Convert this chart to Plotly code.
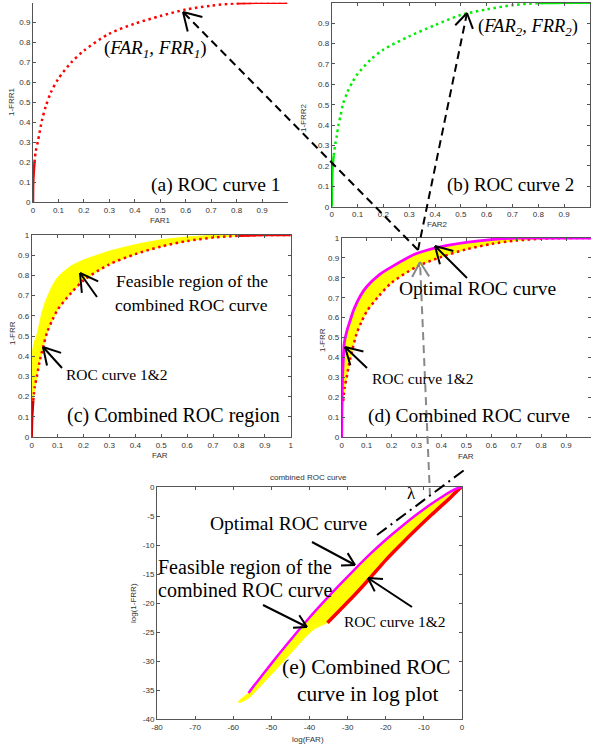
import math
import plotly.graph_objects as go

W, H = 591, 746

# ---------------- data ----------------
ticks01 = [0, 0.1, 0.2, 0.3, 0.4, 0.5, 0.6, 0.7, 0.8, 0.9, 1.0]
ticks01_text = ["0", "0.1", "0.2", "0.3", "0.4", "0.5", "0.6", "0.7", "0.8", "0.9", "1"]

# (a) ROC curve 1
roc1_far = [0, 0.001, 0.003, 0.006, 0.01, 0.02, 0.035, 0.05, 0.07, 0.1, 0.15, 0.2, 0.3, 0.4, 0.5, 0.6, 0.7, 0.8, 0.9, 1.0]
roc1_tar = [0, 0.1, 0.15, 0.2, 0.25, 0.31, 0.41, 0.48, 0.55, 0.62, 0.70, 0.76, 0.845, 0.895, 0.933, 0.966, 0.985, 0.997, 1.0, 1.0]

# (b) ROC curve 2
roc2_far = [0, 0.001, 0.004, 0.008, 0.013, 0.02, 0.026, 0.035, 0.043, 0.06, 0.08, 0.1, 0.15, 0.2, 0.3, 0.4, 0.5, 0.6, 0.7, 0.8, 0.9, 1.0]
roc2_tar = [0, 0.1, 0.2, 0.25, 0.3, 0.35, 0.4, 0.45, 0.5, 0.56, 0.61, 0.65, 0.72, 0.77, 0.835, 0.89, 0.94, 0.967, 0.988, 0.998, 1.0, 1.0]

# (c)/(d) ROC curve 1&2 (lower boundary)
roc12_far = [0, 0.002, 0.006, 0.012, 0.02, 0.03, 0.045, 0.06, 0.08, 0.1, 0.15, 0.2, 0.3, 0.4, 0.5, 0.6, 0.7, 0.8, 0.9, 1.0]
roc12_tar = [0, 0.1, 0.18, 0.25, 0.3, 0.37, 0.45, 0.52, 0.58, 0.63, 0.71, 0.775, 0.855, 0.905, 0.943, 0.97, 0.987, 0.996, 1.0, 1.0]

# (c) feasible region upper boundary
feas_far = [0, 0, 0.002, 0.005, 0.01, 0.02, 0.035, 0.05, 0.075, 0.1, 0.15, 0.2, 0.3, 0.4, 0.5, 0.6, 0.7, 0.8, 1.0]
feas_tar = [0, 0.35, 0.4, 0.44, 0.47, 0.505, 0.59, 0.66, 0.735, 0.79, 0.845, 0.876, 0.92, 0.952, 0.976, 0.99, 0.998, 1.0, 1.0]

# (d) optimal ROC curve
opt_far = [0, 0.001, 0.003, 0.006, 0.01, 0.02, 0.03, 0.05, 0.075, 0.1, 0.15, 0.2, 0.3, 0.4, 0.5, 0.6, 0.7, 0.8, 0.9, 1.0]
opt_tar = [0, 0.15, 0.28, 0.38, 0.47, 0.53, 0.57, 0.645, 0.71, 0.755, 0.815, 0.855, 0.922, 0.957, 0.978, 0.992, 0.999, 1.0, 1.0, 1.0]

# (e) log plot
opt_log_x = [-56, -52, -48, -44, -40, -36, -32, -28, -24, -20, -16, -12, -8, -5, -3, -1.5, -0.5, 0]
opt_log_y = [-35.5, -32.1, -28.8, -25.6, -22.5, -19.6, -16.8, -14.1, -11.5, -9.1, -6.9, -4.8, -2.9, -1.6, -0.8, -0.3, -0.05, 0]
roc12_log_x = [-35.3, -32, -28, -24, -20, -16, -12, -8, -5, -3, -1.5, -0.5, 0]
roc12_log_y = [-23.4, -21.2, -18.5, -15.6, -12.6, -9.9, -7.3, -4.8, -3.0, -1.8, -0.8, -0.2, 0]
feas_low_x = [-35.3, -37, -39, -41, -44, -48, -52, -56, -58.5, -58.5]
feas_low_y = [-23.4, -23.9, -24.6, -25.8, -28.0, -30.9, -33.7, -36.4, -37.2, -36.9]

log_xticks = [-80, -70, -60, -50, -40, -30, -20, -10, 0]
log_yticks = [-40, -35, -30, -25, -20, -15, -10, -5, 0]

# ---------------- helpers ----------------
def P(x, y):
    return x / W, 1 - y / H

def dom(x0, x1, ytop, ybot):
    return [x0 / W, x1 / W], [1 - ybot / H, 1 - ytop / H]

RED = "#ff0000"
GREEN = "#00ee00"
YEL = "#ffff00"
MAG = "#ff00ff"
DOT = "2.5px,3.5px"

fig = go.Figure()

def line_trace(x, y, ax, color, width, dash="solid"):
    fig.add_trace(go.Scatter(x=x, y=y, mode="lines", xaxis="x" + ax, yaxis="y" + ax,
                             line=dict(color=color, width=width, dash=dash,
                                       shape="spline", smoothing=0.8),
                             hoverinfo="skip", showlegend=False))

def fill_trace(xu, yu, xl, yl, ax, color):
    fig.add_trace(go.Scatter(x=list(xu) + list(xl)[::-1], y=list(yu) + list(yl)[::-1],
                             mode="lines", fill="toself", fillcolor=color,
                             xaxis="x" + ax, yaxis="y" + ax,
                             line=dict(color=color, width=1, shape="spline", smoothing=0.6),
                             hoverinfo="skip", showlegend=False))

# (a)
line_trace(roc1_far[:4], roc1_tar[:4], "", RED, 2.5)
line_trace(roc1_far[3:], roc1_tar[3:], "", RED, 2.5, DOT)
line_trace(roc1_far[-3:], roc1_tar[-3:], "", RED, 2.5)
# (b)
line_trace(roc2_far[:4], roc2_tar[:4], "2", GREEN, 2.5)
line_trace(roc2_far[3:], roc2_tar[3:], "2", GREEN, 2.5, DOT)
line_trace(roc2_far[-3:], roc2_tar[-3:], "2", GREEN, 2.5)
# (c)
fill_trace(feas_far, feas_tar, roc12_far, roc12_tar, "3", YEL)
line_trace(roc12_far[:3], roc12_tar[:3], "3", "#cc0000", 2.5)
line_trace(roc12_far[2:], roc12_tar[2:], "3", RED, 2.5, DOT)
line_trace(roc12_far[-3:], roc12_tar[-3:], "3", RED, 2.5)
# (d)
fill_trace(opt_far, opt_tar, roc12_far, roc12_tar, "4", YEL)
line_trace(roc12_far[2:], roc12_tar[2:], "4", RED, 2.5, DOT)
line_trace(opt_far, opt_tar, "4", MAG, 2.8)
# (e)
fill_trace([feas_low_x[-1]] + opt_log_x, [feas_low_y[-1]] + opt_log_y,
           feas_low_x[::-1] + roc12_log_x, feas_low_y[::-1] + roc12_log_y, "5", YEL)
line_trace(roc12_log_x, roc12_log_y, "5", RED, 3.5)
line_trace(opt_log_x, opt_log_y, "5", MAG, 2.5)

# ---------------- axes ----------------
tickfont = dict(family="Liberation Sans, Arial", size=8, color="#333")
base = dict(showline=True, linecolor="#555", linewidth=1, ticks="inside", ticklen=3,
            tickcolor="#555", tickfont=tickfont, showgrid=False, zeroline=False,
            fixedrange=True, automargin=False)

def roc_axes(xd, yd, anchor_x, anchor_y, mirror, hide_last_x=False):
    xt = list(ticks01_text)
    if hide_last_x:
        xt[-1] = ""
    xa = dict(base, domain=xd, range=[0, 1], tickvals=ticks01, ticktext=xt,
              anchor=anchor_y, mirror=mirror)
    ya = dict(base, domain=yd, range=[0, 1], tickvals=ticks01, ticktext=ticks01_text,
              anchor=anchor_x, mirror=mirror)
    return xa, ya

xa, ya = dom(33, 287.5, 2.7, 202.3)
xaxis, yaxis = roc_axes(xa, ya, "x", "y", False, hide_last_x=True)
xb, yb = dom(331.7, 590, 2.7, 206.7)
xaxis2, yaxis2 = roc_axes(xb, yb, "x2", "y2", "ticks")
xc, yc = dom(31.7, 290.7, 235, 437)
xaxis3, yaxis3 = roc_axes(xc, yc, "x3", "y3", "ticks")
xd_, yd_ = dom(341.7, 591, 238, 437)
xaxis4, yaxis4 = roc_axes(xd_, yd_, "x4", "y4", "ticks", hide_last_x=True)
xe, ye = dom(157, 462, 487, 719)
xaxis5 = dict(base, domain=xe, range=[-80, 0], tickvals=log_xticks,
              ticktext=[str(v) for v in log_xticks], anchor="y5", mirror="ticks")
yaxis5 = dict(base, domain=ye, range=[-40, 0], tickvals=log_yticks,
              ticktext=[str(v) for v in log_yticks], anchor="x5", mirror="ticks")

# ---------------- annotations ----------------
ann = []

def text(cx, cy, s, size=17, family="Liberation Serif, Times New Roman", color="black",
         angle=0):
    x, y = P(cx, cy)
    ann.append(dict(x=x, y=y, xref="paper", yref="paper", text=s, showarrow=False,
                    xanchor="center", yanchor="middle", textangle=angle,
                    font=dict(family=family, size=size, color=color)))

small = dict(family="Liberation Sans, Arial", size=8, color="#333")
# axis labels
text(160, 221, "FAR1", **small)
text(12, 101, "1-FRR1", angle=-90, **small)
text(437, 225, "FAR2", **small)
text(303, 118, "1-FRR2", angle=-90, **small)
text(160, 455, "FAR", **small)
text(12, 333, "1-FRR", angle=-90, **small)
text(466, 456, "FAR", **small)
text(322, 340, "1-FRR", angle=-90, **small)
text(308, 739, "log(FAR)", **small)
text(133, 603, "log(1-FRR)", angle=-90, **small)
text(308, 477, "combined ROC curve", **small)

# big labels
text(155, 49, "(<i>FAR</i><sub><i>1</i></sub><i>, FRR</i><sub><i>1</i></sub>)", size=19)
text(215, 185, "(a) ROC curve 1", size=19.5)
text(528, 27, "(<i>FAR</i><sub><i>2</i></sub><i>, FRR</i><sub><i>2</i></sub>)", size=18.5)
text(510, 185, "(b) ROC curve 2", size=19)
text(192, 281, "Feasible region of the", size=17.5)
text(192, 305, "combined ROC curve", size=17.5)
text(117, 374, "ROC curve 1&amp;2", size=15.5)
text(173, 415, "(c) Combined ROC region", size=20)
text(477, 289, "Optimal ROC curve", size=19.5)
text(423, 378, "ROC curve 1&amp;2", size=15.5)
text(469, 416, "(d) Combined ROC curve", size=19.5)
text(288, 523, "Optimal ROC curve", size=19.5)
text(245, 567, "Feasible region of the", size=20)
text(245, 590, "combined ROC curve", size=20)
text(395, 621, "ROC curve 1&amp;2", size=15.5)
text(366, 667, "(e) Combined ROC", size=21.5)
text(368, 694, "curve in log plot", size=21.5)
text(411, 493, "λ", size=17)

# ---------------- shapes (arrows / connector lines) ----------------
shapes = []

def seg(p0, p1, color="black", width=2, dash="solid"):
    x0, y0 = P(*p0)
    x1, y1 = P(*p1)
    shapes.append(dict(type="line", xref="paper", yref="paper", x0=x0, y0=y0, x1=x1, y1=y1,
                       line=dict(color=color, width=width, dash=dash), layer="above"))

def arrow(tip, tail, L=18, ang=30, color="black", width=2, dash="solid"):
    tx, ty = tip
    sx, sy = tail
    a = math.atan2(sy - ty, sx - tx)
    seg(tail, tip, color, width, dash)
    for s in (1, -1):
        b = a + s * math.radians(ang)
        seg(tip, (tx + L * math.cos(b), ty + L * math.sin(b)), color, width)

DASH = "8px,5px"
arrow((183, 12), (418, 250), L=20, ang=31, dash=DASH)
arrow((467, 13), (418, 250), L=17, ang=32, dash=DASH)
arrow((420, 262), (430, 496), L=17, ang=30, color="#888", dash=DASH)
seg((377, 535), (467, 468), "black", 2, "12px,5px,2px,5px")

arrow((80, 273), (97, 297), L=20, ang=30)
arrow((43, 347), (62, 368), L=19, ang=30)
arrow((345, 347), (367, 368), L=19, ang=30)
arrow((435, 246), (467, 278), L=19, ang=30)
arrow((355, 565), (312, 542), L=14, ang=30)
arrow((307, 627), (263, 605), L=14, ang=30)
arrow((368, 578), (412, 607), L=15, ang=30)

fig.update_layout(
    width=W, height=H, margin=dict(l=0, r=0, t=0, b=0, autoexpand=False),
    paper_bgcolor="white", plot_bgcolor="white", showlegend=False,
    xaxis=xaxis, yaxis=yaxis, xaxis2=xaxis2, yaxis2=yaxis2,
    xaxis3=xaxis3, yaxis3=yaxis3, xaxis4=xaxis4, yaxis4=yaxis4,
    xaxis5=xaxis5, yaxis5=yaxis5,
    annotations=ann, shapes=shapes,
)

fig.write_html("out.html", config={"displayModeBar": False},
               post_script="document.body.style.margin='0';document.body.style.overflow='hidden';")
